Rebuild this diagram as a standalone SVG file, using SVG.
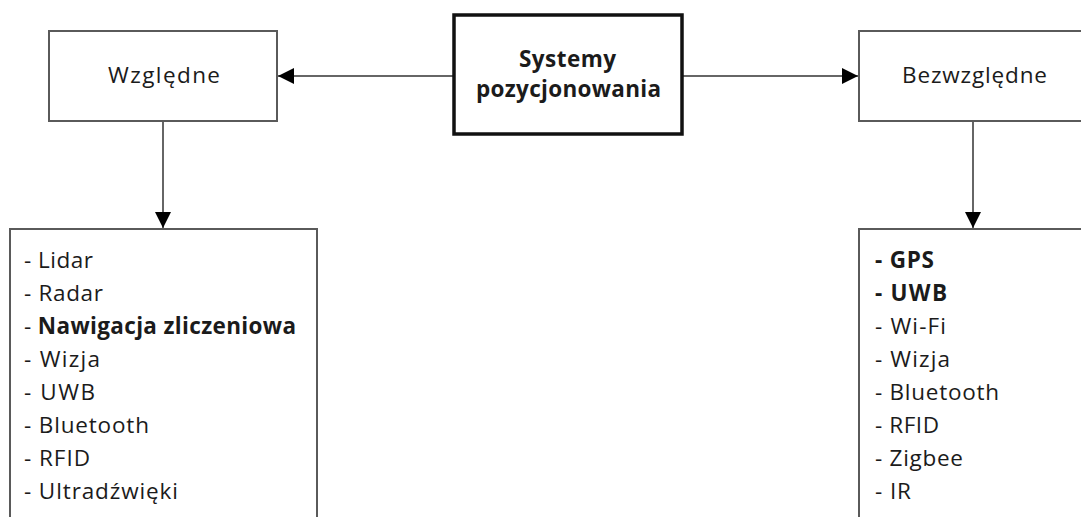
<svg xmlns="http://www.w3.org/2000/svg" width="1081" height="517" viewBox="0 0 1081 517">
  <defs>
    <marker id="arrow" viewBox="0 0 16 16" refX="16" refY="8" markerWidth="16" markerHeight="16" markerUnits="userSpaceOnUse" orient="auto">
      <path d="M0,0 L16,8 L0,16 Z" fill="#000"/>
    </marker>
    <style>
      .box { fill: #fff; stroke: #5a5a5a; stroke-width: 2; }
      .main { fill: #fff; stroke: #111; stroke-width: 3.5; }
      .edge { fill: none; stroke: #333; stroke-width: 1.5; marker-end: url(#arrow); }
      text { font-family: "Open Sans", Lato, "Liberation Sans", sans-serif; fill: #1b1b1b; font-size: 22.5px; }
      .title { text-anchor: middle; }
      .bold { font-weight: bold; }
    </style>
  </defs>

  <!-- connectors -->
  <g id="connectors">
    <line class="edge" x1="454" y1="76" x2="278" y2="76"/>
    <line class="edge" x1="682" y1="76" x2="858" y2="76"/>
    <line class="edge" x1="163" y1="121" x2="163" y2="228"/>
    <line class="edge" x1="973" y1="121" x2="973" y2="228"/>
  </g>

  <!-- central node -->
  <g id="systemy">
    <rect class="main" x="454" y="15" width="228" height="119"/>
    <text class="title bold" x="567.5" y="67" textLength="97" lengthAdjust="spacing">Systemy</text>
    <text class="title bold" x="568.5" y="97" textLength="185" lengthAdjust="spacing">pozycjonowania</text>
  </g>

  <!-- relative positioning -->
  <g id="wzgledne">
    <rect class="box" x="49" y="31" width="228" height="90"/>
    <text class="title" x="164" y="83" textLength="112" lengthAdjust="spacing">Względne</text>
  </g>

  <!-- absolute positioning -->
  <g id="bezwzgledne">
    <rect class="box" x="859" y="31" width="228" height="90"/>
    <text class="title" x="974.5" y="83" textLength="145" lengthAdjust="spacing">Bezwzględne</text>
  </g>

  <!-- relative methods list -->
  <g id="lista-wzgledne">
    <rect class="box" x="10" y="229" width="307" height="310"/>
    <text x="24" y="268" textLength="69" lengthAdjust="spacing">- Lidar</text>
    <text x="24" y="301" textLength="79" lengthAdjust="spacing">- Radar</text>
    <text x="24" y="334" textLength="272" lengthAdjust="spacing">- <tspan class="bold">Nawigacja zliczeniowa</tspan></text>
    <text x="24" y="367" textLength="76" lengthAdjust="spacing">- Wizja</text>
    <text x="24" y="400" textLength="71" lengthAdjust="spacing">- UWB</text>
    <text x="24" y="433" textLength="125" lengthAdjust="spacing">- Bluetooth</text>
    <text x="24" y="466" textLength="66" lengthAdjust="spacing">- RFID</text>
    <text x="24" y="499" textLength="154" lengthAdjust="spacing">- Ultradźwięki</text>
  </g>

  <!-- absolute methods list -->
  <g id="lista-bezwzgledne">
    <rect class="box" x="859" y="229" width="240" height="310"/>
    <text class="bold" x="875" y="268" textLength="59" lengthAdjust="spacing">- GPS</text>
    <text class="bold" x="875" y="301" textLength="72" lengthAdjust="spacing">- UWB</text>
    <text x="875" y="334" textLength="71" lengthAdjust="spacing">- Wi-Fi</text>
    <text x="875" y="367" textLength="75" lengthAdjust="spacing">- Wizja</text>
    <text x="875" y="400" textLength="124" lengthAdjust="spacing">- Bluetooth</text>
    <text x="875" y="433" textLength="64" lengthAdjust="spacing">- RFID</text>
    <text x="875" y="466" textLength="88" lengthAdjust="spacing">- Zigbee</text>
    <text x="875" y="499" textLength="36" lengthAdjust="spacing">- IR</text>
  </g>
</svg>
